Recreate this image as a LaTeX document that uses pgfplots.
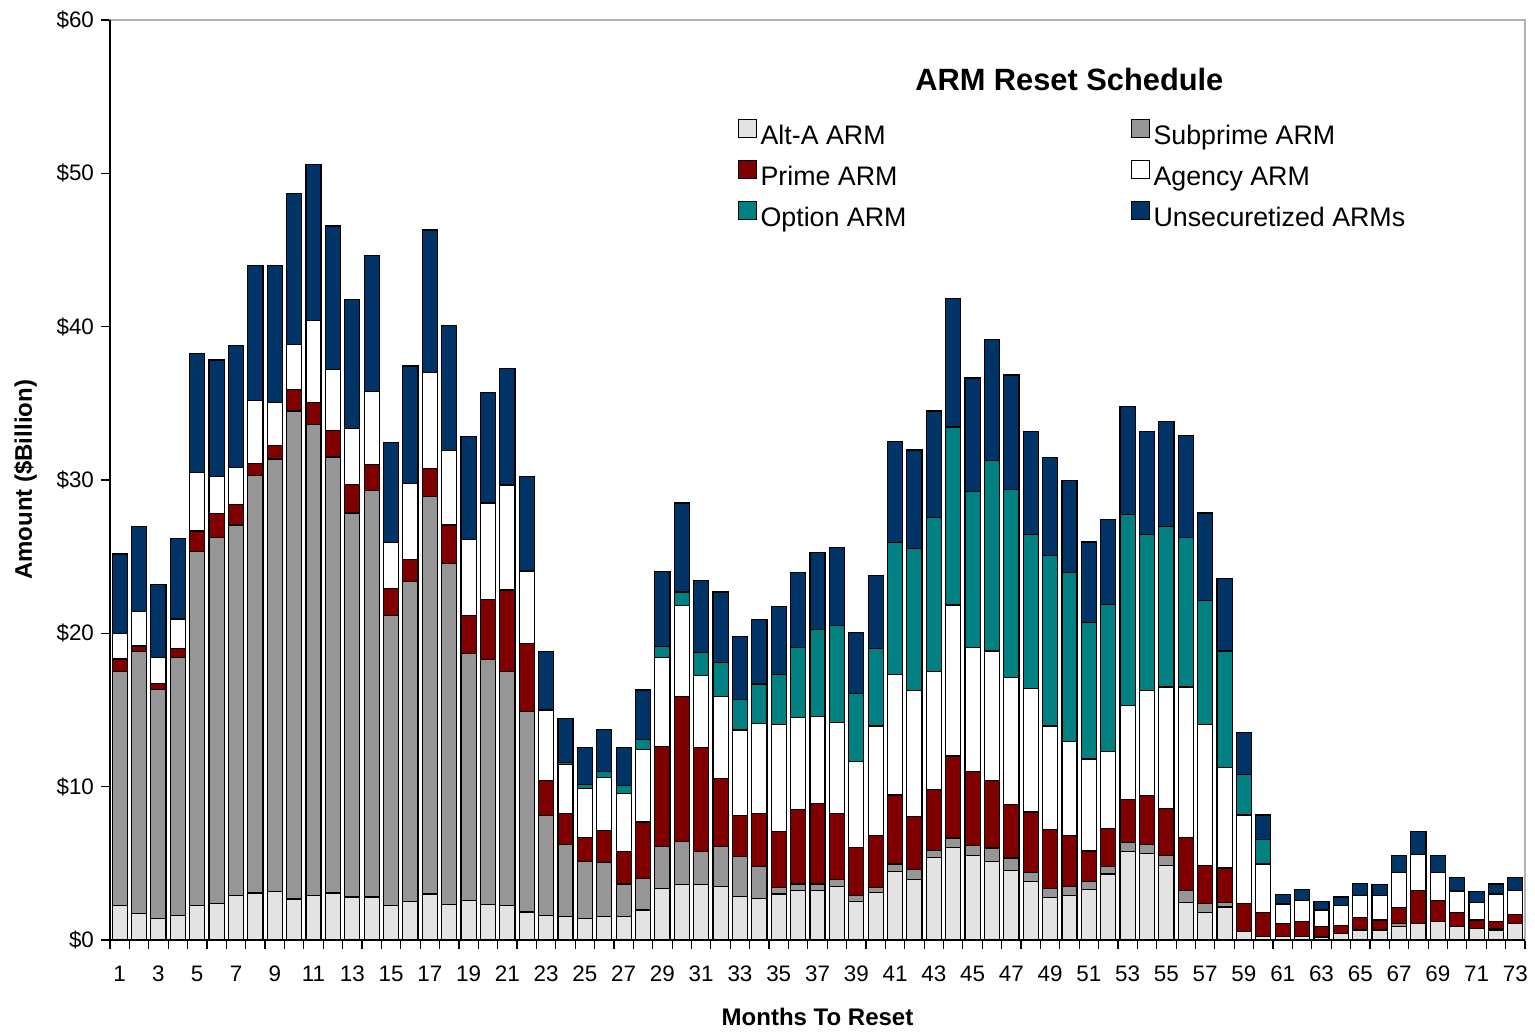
\documentclass[border=0pt]{standalone}
\usepackage{pgfplots}
\usepackage{pgfplotstable}
\pgfplotsset{compat=1.18}
\usepackage{fontspec}
\setmainfont{Liberation Sans}

\definecolor{altA}{HTML}{E3E3E3}
\definecolor{subprime}{HTML}{969696}
\definecolor{primearm}{HTML}{800000}
\definecolor{optionarm}{HTML}{008080}
\definecolor{unsec}{HTML}{003366}

% months to reset, amounts in $ billion per category
\pgfplotstableread{
m  alt   sub    prime  agency option unsec
1  2.27  15.23  0.83   1.67   0      5.17
2  1.73  17.10  0.34   2.23   0      5.57
3  1.40  14.93  0.40   1.67   0      4.77
4  1.60  16.83  0.57   1.93   0      5.24
5  2.27  23.06  1.34   3.83   0      7.73
6  2.40  23.87  1.56   2.40   0      7.60
7  2.90  24.17  1.33   2.43   0      7.94
8  3.07  27.23  0.77   4.10   0      8.80
9  3.17  28.20  0.86   2.84   0      8.90
10 2.67  31.83  1.40   2.93   0      9.84
11 2.90  30.70  1.47   5.33   0      10.20
12 3.07  28.43  1.73   4.00   0      9.34
13 2.80  25.05  1.84   3.66   0      8.40
14 2.80  26.50  1.73   4.73   0      8.87
15 2.27  18.90  1.73   3.00   0      6.53
16 2.50  20.90  1.43   4.94   0      7.66
17 3.00  25.90  1.83   6.27   0      9.30
18 2.33  22.24  2.50   4.86   0      8.14
19 2.60  16.07  2.50   4.93   0      6.73
20 2.33  15.94  3.96   6.27   0      7.23
21 2.27  15.23  5.33   6.84   0      7.60
22 1.83  13.07  4.43   4.74   0      6.16
23 1.60  6.50   2.30   4.60   0      3.80
24 1.55  4.70   2.00   3.20   0.10   2.90
25 1.40  3.70   1.60   3.20   0.25   2.40
26 1.55  3.50   2.10   3.45   0.40   2.75
27 1.55  2.10   2.10   3.80   0.50   2.50
28 1.95  2.05   3.70   4.70   0.65   3.25
29 3.35  2.75   6.50   5.80   0.75   4.90
30 3.60  2.80   9.50   5.90   0.90   5.80
31 3.60  2.15   6.80   4.70   1.50   4.70
32 3.50  2.60   4.45   5.35   2.20   4.60
33 2.85  2.60   2.65   5.60   2.00   4.10
34 2.70  2.10   3.45   5.85   2.60   4.20
35 3.00  0.40   3.65   7.00   3.25   4.45
36 3.25  0.40   4.85   6.00   4.55   4.90
37 3.25  0.40   5.25   5.70   5.65   5.00
38 3.50  0.45   4.30   5.95   6.30   5.10
39 2.50  0.40   3.15   5.60   4.40   4.00
40 3.10  0.30   3.40   7.15   5.05   4.75
41 4.45  0.50   4.50   7.85   8.60   6.60
42 3.95  0.65   3.45   8.20   9.30   6.40
43 5.40  0.45   3.95   7.70   10.05  6.95
44 6.05  0.60   5.35   9.85   11.60  8.40
45 5.50  0.65   4.85   8.05   10.20  7.40
46 5.10  0.90   4.40   8.45   12.40  7.90
47 4.55  0.80   3.50   8.25   12.30  7.45
48 3.80  0.60   3.95   8.05   10.05  6.70
49 2.75  0.60   3.85   6.75   11.10  6.40
50 2.90  0.60   3.30   6.15   11.00  6.00
51 3.30  0.50   2.00   6.00   8.90   5.25
52 4.30  0.50   2.45   5.05   9.60   5.50
53 5.75  0.60   2.80   6.15   12.45  7.05
54 5.65  0.60   3.15   6.85   10.20  6.70
55 4.85  0.65   3.05   7.95   10.45  6.85
56 2.45  0.80   3.45   9.80   9.75   6.65
57 1.80  0.60   2.45   9.20   8.10   5.70
58 2.15  0.30   2.25   6.55   7.60   4.75
59 0.55  0      1.85   5.75   2.65   2.75
60 0.25  0      1.55   3.15   1.60   1.60
61 0.25  0      0.85   1.25   0      0.60
62 0.25  0      0.95   1.40   0      0.70
63 0.20  0      0.70   1.05   0      0.55
64 0.40  0      0.55   1.30   0      0.55
65 0.65  0      0.80   1.45   0      0.80
66 0.65  0      0.65   1.60   0      0.70
67 0.90  0.15   1.05   2.30   0      1.10
68 1.05  0      2.20   2.35   0      1.50
69 1.20  0      1.40   1.80   0      1.10
70 0.90  0      0.90   1.40   0      0.85
71 0.75  0      0.55   1.15   0      0.70
72 0.65  0.10   0.45   1.80   0      0.65
73 1.05  0      0.60   1.60   0      0.85
}\armdata

\begin{document}
\begin{tikzpicture}
\begin{axis}[
    ybar stacked,
    bar width=0.78,
    scale only axis,
    width=707.5pt, height=460pt,
    xmin=0.5, xmax=73.5,
    ymin=0, ymax=60,
    clip=false,
    axis line style={gray!60, line width=0.6pt},
    tick align=outside,
    xtick={1,3,...,73},
    minor xtick={0.5,1.5,...,73.5},
    major x tick style={draw=none},
    minor tick length=4.5pt,
    major tick length=4.5pt,
    every tick/.style={black, line width=0.6pt},
    xtick pos=bottom, ytick pos=left,
    ytick={0,10,...,60},
    yticklabels={\$0,\$10,\$20,\$30,\$40,\$50,\$60},
    /pgf/number format/assume math mode=true,
    ticklabel style={font=\fontsize{11.2}{13}\selectfont},
    xticklabel style={yshift=-5pt},
    ylabel={\textbf{Amount (\$Billion)}},
    xlabel={\textbf{Months To Reset}},
    label style={font=\fontsize{12}{14}\selectfont},
    ylabel style={yshift=3pt},
    xlabel style={yshift=-6pt},
    every axis plot/.append style={draw=black, line width=0.6pt},
    legend columns=2,
    legend cell align=left,
    legend style={at={(rel axis cs:0.439,0.897)}, anchor=north west,
        draw=none, fill=none, font=\fontsize{13.4}{16}\selectfont,
        /tikz/every even column/.append style={column sep=110pt},
        row sep=4pt},
    legend image code/.code={\draw[#1, draw=black, line width=0.5pt] (0pt,-0.5pt) rectangle (9pt,8.5pt);},
]
\addplot[fill=altA] table[x=m, y=alt] {\armdata};
\addplot[fill=subprime] table[x=m, y=sub] {\armdata};
\addplot[fill=primearm] table[x=m, y=prime] {\armdata};
\addplot[fill=white] table[x=m, y=agency] {\armdata};
\addplot[fill=optionarm] table[x=m, y=option] {\armdata};
\addplot[fill=unsec] table[x=m, y=unsec] {\armdata};
\legend{Alt-A ARM, Subprime ARM, Prime ARM, Agency ARM, Option ARM, Unsecuretized ARMs}
\draw[black, line width=0.8pt] (rel axis cs:0,1) -- (rel axis cs:0,0) -- (rel axis cs:1,0);
\node[font=\bfseries\fontsize{15.4}{18}\selectfont] at (rel axis cs:0.678,0.935) {ARM Reset Schedule};
\end{axis}
\path ([shift={(5pt,10pt)}]current axis.north east);
\path ([shift={(-55pt,-45.5pt)}]current axis.south west);
\end{tikzpicture}
\end{document}
